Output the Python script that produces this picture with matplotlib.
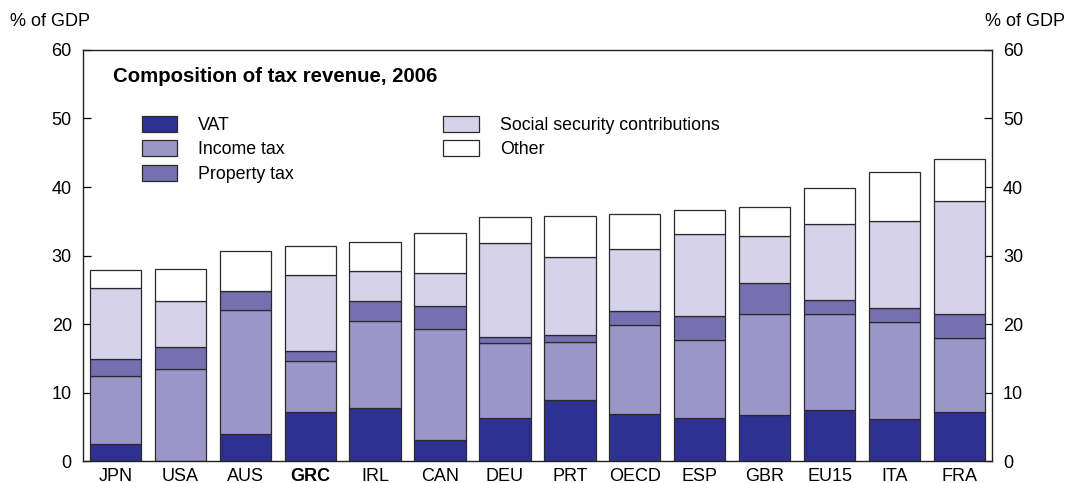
import numpy as np
import matplotlib
matplotlib.use("Agg")
import matplotlib.pyplot as plt

plt.rcParams["font.family"] = ["Liberation Sans", "DejaVu Sans"]

countries = ["JPN", "USA", "AUS", "GRC", "IRL", "CAN", "DEU", "PRT",
             "OECD", "ESP", "GBR", "EU15", "ITA", "FRA"]

# % of GDP, 2006
vat = [2.5, 0.0, 3.9, 7.1, 7.8, 3.1, 6.3, 8.9, 6.8, 6.3, 6.7, 7.4, 6.2, 7.2]
income_tax = [9.9, 13.5, 18.1, 7.5, 12.7, 16.2, 10.9, 8.5, 13.1, 11.4, 14.8, 14.0, 14.1, 10.7]
property_tax = [2.5, 3.1, 2.8, 1.4, 2.9, 3.3, 0.9, 1.0, 2.0, 3.4, 4.5, 2.1, 2.1, 3.6]
social_security = [10.3, 6.7, 0.0, 11.1, 4.3, 4.9, 13.7, 11.4, 9.1, 12.1, 6.9, 11.1, 12.7, 16.4]
other = [2.7, 4.7, 5.8, 4.3, 4.2, 5.8, 3.8, 6.0, 5.0, 3.5, 4.2, 5.3, 7.1, 6.2]

series = [
    ("VAT", vat, "#2e3192"),
    ("Income tax", income_tax, "#9c96c8"),
    ("Property tax", property_tax, "#7670b0"),
    ("Social security contributions", social_security, "#d5d2e9"),
    ("Other", other, "#ffffff"),
]

fig = plt.figure(figsize=(10.68, 4.83), dpi=100)
ax = fig.add_axes([0.0777, 0.0455, 0.851, 0.851])

x = np.arange(len(countries))
bottom = np.zeros(len(countries))
for name, vals, color in series:
    ax.bar(x, vals, width=0.79, bottom=bottom, color=color,
           edgecolor="#2a2a2a", linewidth=0.9, label=name, zorder=2)
    bottom += np.array(vals)

ax.set_xlim(-0.5, len(countries) - 0.5)
ax.set_ylim(0, 60)
ax.set_yticks(range(0, 61, 10))
ax.set_xticks(x)
ax.set_xticklabels(countries)
for lbl in ax.get_xticklabels():
    if lbl.get_text() == "GRC":
        lbl.set_fontweight("bold")

ax.tick_params(axis="y", direction="in", length=6, width=0.9, pad=8,
               labelsize=13, right=True, labelright=True)
ax.tick_params(axis="x", length=0, pad=5, labelsize=13)
for sp in ax.spines.values():
    sp.set_linewidth(1.0)
    sp.set_color("#222222")

ax.text(0.033, 0.935, "Composition of tax revenue, 2006", transform=ax.transAxes,
        fontsize=14.7, fontweight="bold", va="center", ha="left")

ax.legend(loc="upper left", bbox_to_anchor=(0.055, 0.862), ncol=2, frameon=False,
          fontsize=12.8, handlelength=2.0, handleheight=1.0, handletextpad=1.18,
          labelspacing=0.37, columnspacing=8.4, borderpad=0)

fig.text(0.009, 0.955, "% of GDP", fontsize=13, ha="left", va="center")
fig.text(0.997, 0.955, "% of GDP", fontsize=13, ha="right", va="center")

fig.savefig("out.png", dpi=100)
